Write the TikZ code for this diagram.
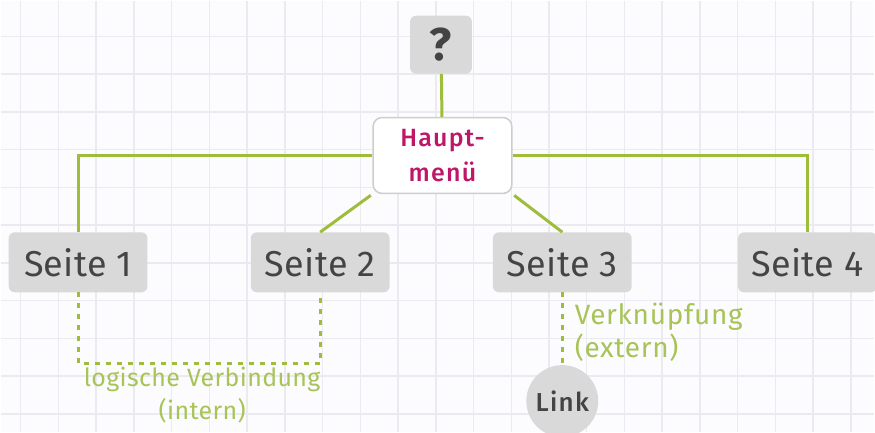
\documentclass[tikz,border=0pt]{standalone}
\usepackage{fontspec}
\setmainfont{Fira Sans}
\newfontfamily\firamed[LetterSpace=5]{Fira Sans Medium}
\usetikzlibrary{positioning,calc}
\definecolor{paper}{RGB}{252,252,254}
\definecolor{gridgray}{RGB}{234,234,240}
\definecolor{boxgray}{RGB}{217,217,217}
\definecolor{textgray}{RGB}{68,68,68}
\definecolor{bordergray}{RGB}{205,205,205}
\definecolor{menupink}{RGB}{190,22,105}
\definecolor{linegreen}{RGB}{158,189,58}
\definecolor{notegreen}{RGB}{168,196,88}

\begin{document}
\begin{tikzpicture}[x=1pt, y=-1pt,
        page/.style={rectangle, rounded corners=6pt, fill=boxgray, text=textgray, minimum width=139pt, minimum height=60pt, font=\fontsize{36}{40}\selectfont\addfontfeatures{LetterSpace=1}},
        quest/.style={rectangle, rounded corners=6pt, fill=boxgray, text=textgray, minimum width=62pt, minimum height=58pt, font=\fontsize{46}{50}\selectfont\bfseries},
        menu/.style={rectangle, rounded corners=9pt, draw=bordergray, line width=1.5pt, fill=white, text=menupink, align=center, minimum width=139pt, minimum height=76pt, font=\fontsize{25}{35}\selectfont\firamed},
        weblink/.style={circle, fill=boxgray, text=textgray, minimum size=72pt, font=\fontsize{26}{30}\selectfont\firamed},
        conn/.style={linegreen, line width=3pt},
        logic/.style={linegreen, line width=3pt, dash pattern=on 5pt off 6pt},
        note/.style={text=notegreen, inner sep=2pt}
    ]
        \fill[paper] (0,0) rectangle (875,432);
        \foreach \gx in {0,...,22}
            \draw[gridgray, line width=1.5pt] ({20+37.8*\gx},0) -- ++(0,432);
        \foreach \gy in {1,...,11}
            \draw[gridgray, line width=1.5pt] (0,{-2+37.8*\gy}) -- ++(875,0);
        \useasboundingbox (0,0) rectangle (875,432);

        \node[quest] (ask) at (441,44) {?};
        \node[menu] (main) at (442.5,155) {Haupt-\\menü};
        \node[page] (seite1) at (77.5,262) {Seite 1};
        \node[page] (seite2) at (320,262) {Seite 2};
        \node[page] (seite3) at (562.5,262) {Seite 3};
        \node[page] (seite4) at (808,262) {Seite 4};
        \node[weblink] (link) at (562.5,401) {Link};

        \draw[conn] (ask) -- (main);
        \draw[conn] (main.west) -| (seite1.north);
        \draw[conn] (main.east) -| (seite4.north);
        \draw[conn, shorten <=2pt] (main.south west) -- (seite2.north);
        \draw[conn, shorten <=2pt] (main.south east) -- (seite3.north);
        \draw[logic] (seite1.south) |- node[note, pos=0.75, below, xshift=3pt, align=center, font=\fontsize{25}{33}\selectfont\addfontfeatures{LetterSpace=1.5}] (intern) {logische Verbindung\\(intern)} ($(seite2.south)+(0,71)$) -- (seite2.south);
        \draw[logic] (seite3.south) -- node[note, midway, anchor=west, xshift=9pt, yshift=-4pt, align=left, font=\fontsize{28}{33}\selectfont\addfontfeatures{LetterSpace=2.5}] (extern) {Verknüpfung\\(extern)} (link.north);
    \end{tikzpicture}
\end{document}
